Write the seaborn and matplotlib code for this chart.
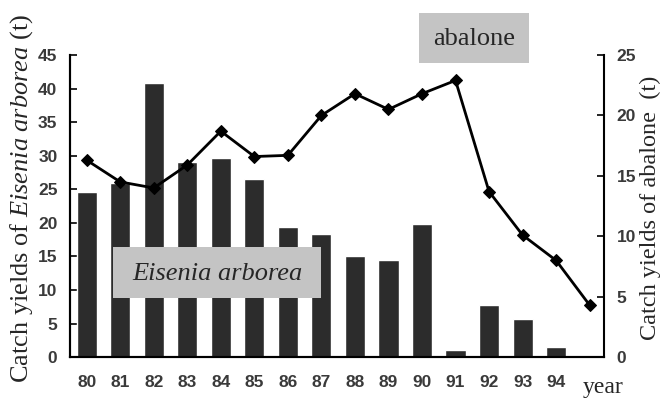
import matplotlib
matplotlib.use("Agg")
import matplotlib.pyplot as plt
from matplotlib.patches import Rectangle
import seaborn as sns
import pandas as pd

# catch yields
bar_years = [80, 81, 82, 83, 84, 85, 86, 87, 88, 89, 90, 91, 92, 93, 94]
eisenia_t = [24.6, 26.0, 40.8, 29.1, 29.7, 26.5, 19.4, 18.3, 15.1, 14.5, 19.9, 1.0, 7.8, 5.7, 1.5]

line_years = [80, 81, 82, 83, 84, 85, 86, 87, 88, 89, 90, 91, 92, 93, 94, 95]
abalone_t = [16.3, 14.5, 14.0, 15.9, 18.7, 16.6, 16.7, 20.0, 21.8, 20.5, 21.8, 22.9, 13.7, 10.1, 8.0, 4.3]

left_ticks = [0, 5, 10, 15, 20, 25, 30, 35, 40, 45]
right_ticks = [0, 5, 10, 15, 20, 25]

sns.set_style("white")
plt.rcParams['font.family'] = ['Liberation Serif', 'DejaVu Serif']
plt.rcParams['mathtext.fontset'] = 'custom'
plt.rcParams['mathtext.rm'] = 'Liberation Serif'
plt.rcParams['mathtext.it'] = 'Liberation Serif:italic'

bars = pd.DataFrame({'year': bar_years, 'catch': eisenia_t})
line = pd.DataFrame({'year': line_years, 'catch': abalone_t})

fig = plt.figure(figsize=(6.66, 3.99), dpi=100)
ax = fig.add_axes([0.105, 0.105, 0.802, 0.757])

sns.barplot(data=bars, x='year', y='catch', native_scale=True, width=0.6,
            color='#2c2c2c', saturation=1, ax=ax)
ax.set_xlim(79.5, 95.43)
ax.set_ylim(0, 45)

ax2 = ax.twinx()
sns.lineplot(data=line, x='year', y='catch', color='black', linewidth=2,
             marker='D', markersize=6, markeredgecolor='black', ax=ax2)
ax2.set_ylim(0, 25)
ax2.set_xlim(79.5, 95.43)

tick_font = dict(family=['Liberation Sans Narrow', 'Liberation Sans', 'DejaVu Sans'],
                 size=12.5, weight='bold', color='#3a3a3a')

ax.set_xticks(bar_years)
ax.set_xticklabels([str(y) for y in bar_years], fontdict=tick_font)
ax.set_xticks([y + 0.5 for y in bar_years], minor=True)
ax.tick_params(axis='x', which='major', length=0, pad=13)
ax.tick_params(axis='x', which='minor', direction='in', length=4, width=1.2, color='black')

ax.set_yticks(left_ticks)
ax.set_yticklabels([str(t) for t in left_ticks], fontdict=tick_font)
ax.tick_params(axis='y', direction='in', length=5, width=1.2, color='black', left=True, pad=9)

ax2.set_yticks(right_ticks)
ax2.set_yticklabels([str(t) for t in right_ticks], fontdict=tick_font)
ax2.tick_params(axis='y', direction='in', length=5, width=1.2, color='black', right=True, pad=9)

for a in (ax, ax2):
    a.spines['top'].set_visible(False)
    for s in ('left', 'right', 'bottom'):
        a.spines[s].set_color('black')
        a.spines[s].set_linewidth(1.5)
ax.spines['right'].set_visible(False)

ax.set_xlabel('')
ax.set_ylabel('')
ax2.set_ylabel('')

fig.text(0.033, 0.503, r'Catch yields of $\mathit{Eisenia\ arborea}$ (t)', fontsize=19,
         rotation=90, ha='center', va='center')
fig.text(0.977, 0.479, 'Catch yields of abalone  (t)', fontsize=17.5,
         rotation=90, ha='center', va='center')
fig.text(0.905, 0.03, 'year', fontsize=17, ha='center', va='center')

# grey label boxes
fig.patches.append(Rectangle((0.1697, 0.2531), 0.3123, 0.1278, transform=fig.transFigure,
                             facecolor='#c4c4c4', edgecolor='none', zorder=5))
fig.patches.append(Rectangle((0.629, 0.842), 0.165, 0.125, transform=fig.transFigure,
                             facecolor='#c4c4c4', edgecolor='none', zorder=5))
fig.text(0.326, 0.314, 'Eisenia arborea', fontsize=19, style='italic',
         ha='center', va='center', zorder=6)
fig.text(0.7117, 0.902, 'abalone', fontsize=19, ha='center', va='center', zorder=6)

fig.savefig('out.png', dpi=100)
